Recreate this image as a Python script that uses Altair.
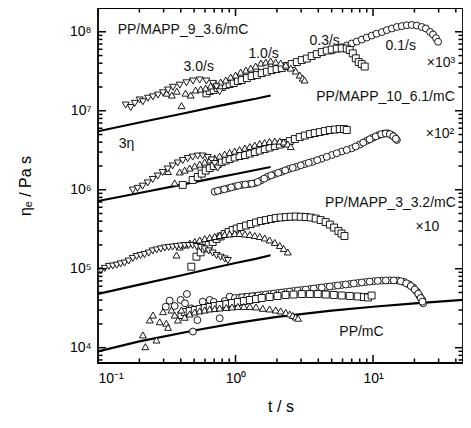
import altair as alt
import pandas as pd

W, H = 365, 355
FONT = "Liberation Sans"

# ---------------- data (plotted, already shifted) ----------------
# PP/MAPP_9_3.6/mC  (x10^3)
g1_c_t = [5.01, 5.45, 5.92, 6.44, 7.00, 7.61, 8.28, 8.99, 9.78, 10.6, 11.6, 12.6, 13.7, 14.9, 16.2, 17.6, 19.1, 20.8, 22.6, 24.2, 26.0, 27.3, 28.7, 29.7]
g1_c_e = [5.78e7, 6.13e7, 6.37e7, 6.69e7, 7.10e7, 7.52e7, 7.97e7, 8.45e7, 8.95e7, 9.44e7, 9.91e7, 1.05e8, 1.10e8, 1.15e8, 1.18e8, 1.21e8, 1.22e8, 1.20e8, 1.15e8, 1.10e8, 9.94e7, 9.22e7, 8.32e7, 7.47e7]
g1_s_t = [0.614, 0.649, 0.694, 0.742, 0.794, 0.849, 0.907, 0.970, 1.04, 1.11, 1.21, 1.31, 1.43, 1.55, 1.69, 1.83, 1.99, 2.17, 2.36, 2.56, 2.79, 3.03, 3.30, 3.58, 3.90, 4.24, 4.61, 5.01, 5.45, 5.92, 6.44, 6.77, 7.12, 7.49, 7.87, 8.28, 8.70]
g1_s_e = [1.66e7, 1.78e7, 1.83e7, 1.94e7, 2.00e7, 2.11e7, 2.18e7, 2.24e7, 2.38e7, 2.45e7, 2.59e7, 2.75e7, 2.83e7, 3.00e7, 3.12e7, 3.27e7, 3.37e7, 3.47e7, 3.68e7, 3.90e7, 4.13e7, 4.38e7, 4.58e7, 4.92e7, 5.21e7, 5.53e7, 5.78e7, 5.96e7, 6.13e7, 6.17e7, 6.13e7, 5.87e7, 5.33e7, 4.61e7, 4.13e7, 3.90e7, 3.63e7]
g1_u_t = [0.316, 0.344, 0.374, 0.405, 0.433, 0.472, 0.513, 0.558, 0.607, 0.660, 0.718, 0.780, 0.849, 0.923, 1.00, 1.09, 1.19, 1.29, 1.40, 1.53, 1.66, 1.80, 1.96, 2.13, 2.32, 2.52, 2.74, 2.93, 3.08, 3.18]
g1_u_e = [1.67e7, 1.58e7, 1.77e7, 1.16e7, 1.67e7, 1.58e7, 1.83e7, 1.88e7, 1.94e7, 2.06e7, 2.18e7, 2.31e7, 2.45e7, 2.67e7, 2.83e7, 3.09e7, 3.27e7, 3.47e7, 3.68e7, 4.02e7, 4.13e7, 4.26e7, 4.13e7, 4.02e7, 3.79e7, 3.47e7, 3.18e7, 2.83e7, 2.59e7, 2.45e7]
g1_d_t = [0.159, 0.173, 0.185, 0.201, 0.212, 0.231, 0.251, 0.273, 0.297, 0.323, 0.351, 0.393, 0.440, 0.491, 0.549, 0.614, 0.686, 0.726, 0.767]
g1_d_e = [1.18e7, 1.10e7, 1.24e7, 1.37e7, 1.30e7, 1.44e7, 1.50e7, 1.58e7, 1.69e7, 1.83e7, 1.98e7, 2.11e7, 2.26e7, 2.38e7, 2.45e7, 2.38e7, 2.22e7, 2.01e7, 1.74e7]

# PP/MAPP_10_6.1/mC  (x10^2)
g2_c_t = [0.706, 0.780, 0.878, 0.986, 1.11, 1.25, 1.38, 1.53, 1.71, 1.93, 2.17, 2.44, 2.79, 3.19, 3.64, 4.24, 5.01, 5.92, 7.00, 8.00, 9.00, 9.95, 11.0, 12.0, 12.8, 13.7, 14.4, 14.9,
          0.742, 0.828, 0.930, 1.046, 1.177, 1.312, 1.450, 1.617, 1.818, 2.044, 2.299, 2.606, 2.980, 3.407, 3.929, 4.606, 5.445, 6.439, 7.485, 8.487, 9.46, 10.46, 11.47, 12.37, 13.23, 14.03, 14.63]
g2_c_e = [9.44e5, 9.91e5, 1.04e6, 1.10e6, 1.15e6, 1.18e6, 1.21e6, 1.31e6, 1.46e6, 1.58e6, 1.69e6, 1.83e6, 1.95e6, 2.11e6, 2.26e6, 2.48e6, 2.75e6, 3.05e6, 3.34e6, 3.73e6, 4.17e6, 4.54e6, 4.92e6, 5.14e6, 5.18e6, 4.92e6, 4.58e6, 4.26e6,
          9.68e5, 1.015e6, 1.069e6, 1.124e6, 1.163e6, 1.194e6, 1.252e6, 1.382e6, 1.522e6, 1.637e6, 1.760e6, 1.893e6, 2.036e6, 2.190e6, 2.370e6, 2.608e6, 2.897e6, 3.190e6, 3.532e6, 3.946e6, 4.356e6, 4.727e6, 5.04e6, 5.16e6, 5.06e6, 4.75e6, 4.42e6]
g2_s_t = [0.413, 0.488, 0.531, 0.568, 0.607, 0.649, 0.694, 0.742, 0.794, 0.849, 0.907, 0.986, 1.07, 1.17, 1.27, 1.38, 1.50, 1.63, 1.77, 1.93, 2.10, 2.28, 2.48, 2.70, 2.93, 3.19, 3.47, 3.77, 4.10, 4.46, 4.85, 5.27, 5.73, 6.14, 6.44]
g2_s_e = [1.15e6, 1.33e6, 1.45e6, 1.60e6, 1.75e6, 1.88e6, 2.00e6, 2.11e6, 2.24e6, 2.34e6, 2.45e6, 2.56e6, 2.67e6, 2.75e6, 2.87e6, 3.00e6, 3.13e6, 3.27e6, 3.42e6, 3.57e6, 3.73e6, 3.90e6, 4.13e6, 4.38e6, 4.65e6, 4.85e6, 5.07e6, 5.22e6, 5.37e6, 5.53e6, 5.70e6, 5.78e6, 5.87e6, 5.87e6, 5.70e6]
g2_u_t = [0.323, 0.361, 0.393, 0.427, 0.464, 0.505, 0.549, 0.597, 0.649, 0.706, 0.767, 0.834, 0.907, 0.986, 1.07, 1.17, 1.27, 1.38, 1.50, 1.63, 1.77, 1.93, 2.10, 2.24, 2.40, 2.52]
g2_u_e = [1.70e6, 1.22e6, 1.68e6, 1.77e6, 1.88e6, 2.00e6, 2.11e6, 2.24e6, 2.38e6, 2.52e6, 2.67e6, 2.83e6, 2.96e6, 3.09e6, 3.23e6, 3.37e6, 3.52e6, 3.68e6, 3.85e6, 3.96e6, 4.07e6, 4.13e6, 4.13e6, 4.02e6, 3.79e6, 3.52e6]
g2_d_t = [0.179, 0.194, 0.211, 0.230, 0.250, 0.272, 0.295, 0.321, 0.349, 0.380, 0.413, 0.449, 0.488, 0.531, 0.577, 0.628, 0.671, 0.706, 0.742]
g2_d_e = [9.9e5, 1.04e6, 1.11e6, 1.22e6, 1.35e6, 1.49e6, 1.65e6, 1.83e6, 2.00e6, 2.18e6, 2.34e6, 2.48e6, 2.59e6, 2.67e6, 2.67e6, 2.56e6, 2.38e6, 2.15e6, 1.88e6]

# PP/MAPP_3_3.2/mC  (x10)
g3_s_t = [0.477, 0.52, 0.558, 0.597, 0.638, 0.682, 0.729, 0.780, 0.834, 0.891, 0.953, 1.02, 1.09, 1.19, 1.29, 1.41, 1.53, 1.66, 1.81, 1.96, 2.13, 2.32, 2.52, 2.74, 2.98, 3.24, 3.52, 3.83, 4.16, 4.52, 4.85, 5.21, 5.60, 5.90, 6.20]
g3_s_e = [1.06e5, 1.42e5, 1.61e5, 1.80e5, 2.00e5, 2.18e5, 2.38e5, 2.56e5, 2.75e5, 2.92e5, 3.09e5, 3.23e5, 3.37e5, 3.52e5, 3.68e5, 3.85e5, 4.02e5, 4.13e5, 4.26e5, 4.38e5, 4.45e5, 4.51e5, 4.55e5, 4.58e5, 4.55e5, 4.51e5, 4.45e5, 4.32e5, 4.13e5, 3.90e5, 3.62e5, 3.32e5, 3.00e5, 2.79e5, 2.59e5]
g3_u_t = [0.372, 0.393, 0.427, 0.464, 0.505, 0.549, 0.597, 0.649, 0.706, 0.767, 0.834, 0.907, 0.986, 1.07, 1.17, 1.27, 1.38, 1.50, 1.63, 1.77, 1.93, 2.10, 2.24, 2.40]
g3_u_e = [1.49e5, 1.88e5, 2.00e5, 2.11e5, 2.21e5, 2.31e5, 2.41e5, 2.48e5, 2.56e5, 2.63e5, 2.71e5, 2.75e5, 2.79e5, 2.79e5, 2.75e5, 2.71e5, 2.63e5, 2.56e5, 2.45e5, 2.31e5, 2.15e5, 1.97e5, 1.80e5, 1.63e5]
g3_d_t = [0.100, 0.1046, 0.112, 0.120, 0.128, 0.137, 0.146, 0.156, 0.167, 0.179, 0.191, 0.204, 0.218, 0.234, 0.250, 0.267, 0.286, 0.306, 0.327, 0.349, 0.374, 0.399, 0.427, 0.456, 0.488, 0.522, 0.558, 0.597, 0.638, 0.682, 0.729, 0.780, 0.834, 0.880]
g3_d_e = [9.1e4, 9.38e4, 1.01e5, 1.07e5, 1.08e5, 1.11e5, 1.15e5, 1.18e5, 1.25e5, 1.35e5, 1.43e5, 1.47e5, 1.51e5, 1.58e5, 1.68e5, 1.73e5, 1.78e5, 1.83e5, 1.86e5, 1.88e5, 1.91e5, 1.94e5, 1.97e5, 1.97e5, 1.97e5, 1.91e5, 1.86e5, 1.78e5, 1.68e5, 1.58e5, 1.47e5, 1.40e5, 1.33e5, 1.27e5]

# PP/mC  (x1)
g4_c_t = [0.311, 0.332, 0.361, 0.399, 0.443, 0.429, 0.477, 0.490, 0.528, 0.577, 0.649, 0.694, 0.767, 0.834, 0.907, 0.99,
          1.07, 1.17, 1.27, 1.38, 1.55, 1.77, 2.02, 2.31, 2.64, 3.03, 3.47, 3.96, 4.53, 5.18, 5.92, 6.77, 7.74, 8.84, 10.1, 11.6, 13.2, 15.1, 16.8, 18.3, 19.6, 20.8, 21.8, 22.8, 23.2,
          1.119, 1.217, 1.323, 1.463, 1.658, 1.896, 2.168, 2.479, 2.834, 3.240, 3.705, 4.236, 4.843, 5.538, 6.332, 7.239, 8.277, 9.46, 10.82, 12.37, 14.15, 15.91, 17.44, 18.81, 20.11, 21.32, 22.23, 22.85]
g4_c_e = [3.30e4, 3.94e4, 3.37e4, 4.02e4, 4.78e4, 3.65e4, 3.15e4, 1.60e4, 2.24e4, 3.82e4, 4.02e4, 3.80e4, 2.36e4, 3.90e4, 4.43e4, 4.26e4,
          4.32e4, 4.38e4, 4.45e4, 4.51e4, 4.65e4, 4.78e4, 4.92e4, 5.07e4, 5.22e4, 5.37e4, 5.53e4, 5.70e4, 5.87e4, 6.04e4, 6.22e4, 6.40e4, 6.59e4, 6.79e4, 6.95e4, 7.07e4, 7.13e4, 7.09e4, 6.79e4, 6.31e4, 5.78e4, 5.14e4, 4.51e4, 4.02e4, 3.65e4,
          4.35e4, 4.41e4, 4.48e4, 4.58e4, 4.71e4, 4.85e4, 5.00e4, 5.14e4, 5.30e4, 5.45e4, 5.62e4, 5.78e4, 5.95e4, 6.13e4, 6.31e4, 6.50e4, 6.69e4, 6.87e4, 7.01e4, 7.10e4, 7.11e4, 6.94e4, 6.54e4, 6.04e4, 5.45e4, 4.82e4, 4.26e4, 3.83e4]
g4_s_t = [0.404, 0.427, 0.464, 0.505, 0.549, 0.597, 0.649, 0.706, 0.767, 0.857, 0.943, 1.04, 1.15, 1.27, 1.41, 1.55, 1.77, 2.02, 2.31, 2.64, 3.03, 3.47, 3.96, 4.53, 5.18, 5.92, 6.77, 7.74, 8.58, 9.19, 9.76]
g4_s_e = [2.59e4, 2.83e4, 2.92e4, 3.00e4, 3.09e4, 3.18e4, 3.28e4, 3.37e4, 3.47e4, 3.57e4, 3.68e4, 3.79e4, 3.90e4, 4.02e4, 4.13e4, 4.26e4, 4.38e4, 4.51e4, 4.65e4, 4.71e4, 4.78e4, 4.78e4, 4.78e4, 4.71e4, 4.65e4, 4.58e4, 4.51e4, 4.45e4, 4.38e4, 4.32e4, 4.58e4]
g4_u_t = [0.212, 0.221, 0.238, 0.251, 0.266, 0.281, 0.297, 0.314, 0.323, 0.342, 0.361, 0.381, 0.404, 0.427,
          0.464, 0.505, 0.549, 0.597, 0.649, 0.706, 0.767, 0.857, 0.943, 1.04, 1.15, 1.27, 1.41, 1.58, 1.77, 1.96, 2.13, 2.32, 2.48, 2.61, 2.74, 2.85]
g4_u_e = [1.45e4, 1.03e4, 2.24e4, 2.59e4, 1.25e4, 2.13e4, 2.86e4, 2.04e4, 1.81e4, 3.00e4, 2.59e4, 2.24e4, 3.00e4, 2.43e4,
          2.67e4, 2.83e4, 2.92e4, 3.00e4, 3.09e4, 3.13e4, 3.18e4, 3.23e4, 3.28e4, 3.33e4, 3.33e4, 3.33e4, 3.28e4, 3.15e4, 3.09e4, 3.00e4, 2.92e4, 2.79e4, 2.67e4, 2.56e4, 2.45e4, 2.36e4]

# 3*eta (linear viscoelastic envelopes)
l1_t = [0.1, 0.2, 0.4, 0.7, 1.0, 1.4, 1.8]
l1_e = [5.5e6, 7.1e6, 9.1e6, 1.12e7, 1.27e7, 1.42e7, 1.56e7]
l2_t = [0.1, 0.2, 0.4, 0.7, 1.0, 1.4, 1.8]
l2_e = [7.2e5, 9.1e5, 1.15e6, 1.40e6, 1.58e6, 1.78e6, 1.94e6]
l3_t = [0.1, 0.2, 0.4, 0.7, 1.0, 1.4, 1.8]
l3_e = [4.8e4, 6.3e4, 8.2e4, 1.03e5, 1.18e5, 1.33e5, 1.48e5]
l4_t = [0.1, 0.2, 0.5, 1.0, 2.0, 5.0, 10.0, 20.0, 50.5]
l4_e = [9.0e3, 1.2e4, 1.65e4, 2.05e4, 2.45e4, 2.95e4, 3.3e4, 3.65e4, 4.1e4]

rates = ["0.1/s", "0.3/s", "1.0/s", "3.0/s"]
shapes = ["circle", "square", "triangle-up", "triangle-down"]

# annotations: label, t, eta, align
ann_labels = ["PP/MAPP_9_3.6/mC", "3.0/s", "1.0/s", "0.3/s", "0.1/s", "\u00d710\u00b3",
              "PP/MAPP_10_6.1/mC", "3\u03b7", "\u00d710\u00b2", "PP/MAPP_3_3.2/mC", "\u00d710", "PP/mC"]
ann_t = [0.139, 0.540, 1.60, 4.45, 15.9, 24.6, 39.3, 0.1414, 24.2, 40.0, 20.4, 8.24]
ann_e = [9.49e7, 3.18e7, 4.65e7, 6.89e7, 5.95e7, 3.63e7, 1.31e7, 3.37e6, 4.51e6, 6.13e5, 2.96e5, 1.39e4]
ann_align = ["left", "center", "center", "center", "center", "left", "right", "left", "left", "right", "left", "center"]

# tick positions
x_tick_vals = [0.1, 0.2, 0.3, 0.4, 0.5, 0.6, 0.7, 0.8, 0.9, 1, 2, 3, 4, 5, 6, 7, 8, 9, 10, 20, 30, 40]
y_tick_vals = [7e3, 8e3, 9e3] + [m * 10 ** k for k in range(4, 8) for m in range(1, 10)] + [1e8]
x_label_vals = [0.1, 1, 10]
y_label_vals = [1e4, 1e5, 1e6, 1e7, 1e8]

# ---------------- tables ----------------
series = [
    ("0.1/s", [(g1_c_t, g1_c_e), (g2_c_t, g2_c_e), (g4_c_t, g4_c_e)]),
    ("0.3/s", [(g1_s_t, g1_s_e), (g2_s_t, g2_s_e), (g3_s_t, g3_s_e), (g4_s_t, g4_s_e)]),
    ("1.0/s", [(g1_u_t, g1_u_e), (g2_u_t, g2_u_e), (g3_u_t, g3_u_e), (g4_u_t, g4_u_e)]),
    ("3.0/s", [(g1_d_t, g1_d_e), (g2_d_t, g2_d_e), (g3_d_t, g3_d_e)]),
]
rows = []
for rate, lst in series:
    for ts, es in lst:
        for a, b in zip(ts, es):
            rows.append({"t": a, "eta": b, "rate": rate})
pts = pd.DataFrame(rows)

lrows = []
for g, (ts, es) in enumerate([(l1_t, l1_e), (l2_t, l2_e), (l3_t, l3_e), (l4_t, l4_e)]):
    for a, b in zip(ts, es):
        lrows.append({"t": a, "eta": b, "grp": g})
lines_df = pd.DataFrame(lrows)

ann = pd.DataFrame({"label": ann_labels, "t": ann_t, "eta": ann_e, "align": ann_align})
xt_df = pd.DataFrame({"t": x_tick_vals})
yt_df = pd.DataFrame({"eta": y_tick_vals})

# ---------------- scales / axes ----------------
xs = alt.Scale(type="log", domain=[0.1, 45.1], nice=False)
ys = alt.Scale(type="log", domain=[6.4e3, 2.0e8], nice=False)

x_lab = alt.Axis(orient="bottom", values=x_label_vals, ticks=False, domain=False, grid=False,
                 labelExpr="datum.value < 0.5 ? '10\u207b\u00b9' : (datum.value < 5 ? '10\u2070' : '10\u00b9')",
                 labelFont=FONT, labelFontSize=14, labelColor="black", labelPadding=8,
                 title="t / s", titleFont=FONT, titleFontSize=16, titleFontWeight="normal",
                 titleColor="black", titlePadding=13)
y_lab = alt.Axis(orient="left", values=y_label_vals, ticks=False, domain=False, grid=False,
                 labelExpr="'10' + ['\u2074','\u2075','\u2076','\u2077','\u2078'][round(log(datum.value)/LN10) - 4]",
                 labelFont=FONT, labelFontSize=14, labelColor="black", labelPadding=7,
                 title="\u03b7\u2091 / Pa s", titleFont=FONT, titleFontSize=16, titleFontWeight="normal",
                 titleColor="black", titlePadding=36)

X = lambda ax=None: alt.X("t:Q", scale=xs, axis=ax)
Y = lambda ax=None: alt.Y("eta:Q", scale=ys, axis=ax)

lines = alt.Chart(lines_df).mark_line(color="black", strokeWidth=2.2, clip=True).encode(
    x=X(x_lab), y=Y(y_lab), detail="grp:N")

points = alt.Chart(pts).mark_point(filled=True, size=48, strokeWidth=0.9, opacity=1, clip=True).encode(
    x=X(), y=Y(),
    shape=alt.Shape("rate:N", scale=alt.Scale(domain=rates, range=shapes), legend=None),
    fill=alt.value("white"), stroke=alt.value("black"))

# inward ticks: tick marks centred on the frame, outer half clipped away
MAJ_X = "abs(log(datum.t)/LN10 - round(log(datum.t)/LN10)) < 0.001"
MAJ_Y = "abs(log(datum.eta)/LN10 - round(log(datum.eta)/LN10)) < 0.001"
tick_layers = []
for ypos in [0, H]:
    tick_layers.append(
        alt.Chart(xt_df).mark_tick(orient="vertical", thickness=1.5, color="black", opacity=1, clip=True).encode(
            x=X(), y=alt.value(ypos),
            size=alt.condition(MAJ_X, alt.value(16), alt.value(9)))
    )
for xpos in [0, W]:
    tick_layers.append(
        alt.Chart(yt_df).mark_tick(orient="horizontal", thickness=1.5, color="black", opacity=1, clip=True).encode(
            y=Y(), x=alt.value(xpos),
            size=alt.condition(MAJ_Y, alt.value(16), alt.value(9)))
    )

text_layers = []
for al in ["left", "center", "right"]:
    text_layers.append(
        alt.Chart(ann).transform_filter(alt.datum.align == al).mark_text(
            align=al, baseline="alphabetic", font=FONT, fontSize=14, color="#111"
        ).encode(text="label:N", x=X(), y=Y())
    )

chart = alt.layer(lines, points, *tick_layers, *text_layers).resolve_axis(
    x="independent", y="independent"
).properties(
    width=W, height=H, autosize="none",
    padding={"left": 90, "top": 0, "right": 0, "bottom": 51},
    background="white",
).configure_view(stroke="black", strokeWidth=1.8)

chart.save("out.html", embed_options={"renderer": "svg", "actions": False})
